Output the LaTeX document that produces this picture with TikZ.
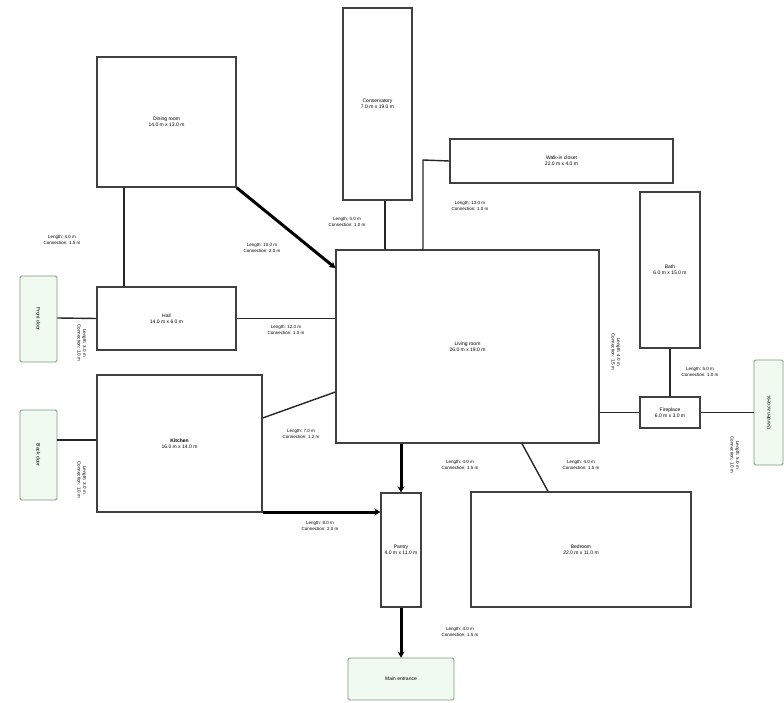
\documentclass[tikz,border=0pt]{standalone}
\usepackage{fontspec}
\setmainfont{Liberation Sans}
\usetikzlibrary{arrows.meta}
\definecolor{boxline}{HTML}{404040}
\definecolor{gfill}{HTML}{F1FAF1}
\definecolor{gline}{HTML}{7A9A7A}
\begin{document}
\begin{tikzpicture}[x=1pt,y=-1pt,
  room/.style={draw=boxline,line width=1.3pt,fill=white,align=center,inner sep=0pt,font=\fontsize{5}{6}\selectfont},
  gate/.style={draw=gline,line width=0.8pt,fill=gfill,rounded corners=1.5pt,align=center,inner sep=0pt,font=\fontsize{5}{6}\selectfont},
  link/.style={draw=black!85,line width=1.4pt},
  heavy/.style={draw=black,line width=3pt,-{Stealth[length=6pt,width=7pt]}},
  lab/.style={align=center,font=\fontsize{4.5}{5.5}\selectfont,inner sep=0pt}]
\useasboundingbox (0,0) rectangle (784,703);
% rooms
\node[room,minimum width=139pt,minimum height=130pt] (dining) at (166.5,122) {Dining room\\14.0 m x 13.0 m};
\node[room,minimum width=69pt,minimum height=192pt] (cons) at (377.5,104) {Conservatory\\7.0 m x 19.0 m};
\node[room,minimum width=223pt,minimum height=44pt] (closet) at (561.5,161) {Walk-in closet\\22.0 m x 4.0 m};
\node[room,minimum width=60pt,minimum height=156pt] (bath) at (670,270) {Bath\\6.0 m x 15.0 m};
\node[room,minimum width=60pt,minimum height=31pt] (fire) at (670,412.5) {Fireplace\\6.0 m x 3.0 m};
\node[room,minimum width=263pt,minimum height=193pt] (living) at (467.5,346.5) {Living room\\26.0 m x 19.0 m};
\node[room,minimum width=139pt,minimum height=63pt] (hall) at (166.5,318.5) {Hall\\14.0 m x 6.0 m};
\node[room,minimum width=165pt,minimum height=137pt] (kitchen) at (179.5,443.5) {\textbf{Kitchen}\\16.0 m x 14.0 m};
\node[room,minimum width=40pt,minimum height=114pt] (pantry) at (401,550) {Pantry\\4.0 m x 11.0 m};
\node[room,minimum width=220pt,minimum height=115pt] (bed) at (581,549.5) {Bedroom\\22.0 m x 11.0 m};
% entrances
\node[gate,minimum width=37pt,minimum height=86pt] (gtop) at (38.5,319) {\rotatebox{-90}{Front door}};
\node[gate,minimum width=37pt,minimum height=90pt] (gbot) at (38.5,455) {\rotatebox{-90}{Back door}};
\node[gate,minimum width=29pt,minimum height=105pt] (gright) at (768.5,412.5) {\rotatebox{90}{Garden access}};
\node[gate,minimum width=106pt,minimum height=42pt] (gmain) at (401,679) {Main entrance};
% connectors
\draw[link] (dining.south -| 124,0) -- (hall.north -| 124,0);
\node[lab] (l1) at (62,240) {Length: 4.0 m\\Connection: 1.5 m};
\draw[heavy] (dining.south east) -- (living.north west |- 0,268);
\node[lab] (l2) at (262,248) {Length: 10.0 m\\Connection: 2.0 m};
\draw[link] (cons.south -| 385,0) -- (living.north -| 385,0);
\node[lab] (l3) at (347,222) {Length: 5.0 m\\Connection: 1.0 m};
\coordinate (cbend) at (423,160);
\draw[link] (closet.west) -- (cbend) -- (living.north -| cbend);
\node[lab] (l4) at (470,206) {Length: 13.0 m\\Connection: 1.0 m};
\draw[link] (hall.east) -- (living.west |- hall.east);
\node[lab] (l5) at (286,330) {Length: 12.0 m\\Connection: 1.0 m};
\draw[link] (gtop.east |- 0,318) -- (hall.west);
\node[lab,rotate=-90] (l6) at (82,343) {Length: 3.0 m\\Connection: 1.0 m};
\draw[link] (kitchen.east |- 0,418) -- (living.west |- 0,392);
\node[lab] (l7) at (301,434) {Length: 7.0 m\\Connection: 1.2 m};
\draw[link] (gbot.east |- 0,440) -- (kitchen.west |- 0,440);
\node[lab,rotate=-90] (l8) at (82,480) {Length: 3.0 m\\Connection: 1.0 m};
\draw[heavy] (kitchen.east |- 0,512) -- (pantry.west |- 0,512);
\node[lab] (l9) at (320,526) {Length: 8.0 m\\Connection: 2.0 m};
\draw[heavy] (living.south -| pantry.north) -- (pantry.north);
\node[lab] (l10) at (460,465) {Length: 4.0 m\\Connection: 1.5 m};
\draw[link] (living.south -| 522,0) -- (bed.north -| 548,0);
\node[lab] (l11) at (581,465) {Length: 4.0 m\\Connection: 1.5 m};
\draw[heavy] (pantry.south) -- (gmain.north);
\node[lab] (l12) at (460,632) {Length: 4.0 m\\Connection: 1.5 m};
\draw[link] (living.east |- fire.west) -- (fire.west);
\node[lab,rotate=-90] (l13) at (616,352) {Length: 4.0 m\\Connection: 1.5 m};
\draw[link] (bath.south) -- (fire.north);
\node[lab] (l14) at (700,372) {Length: 5.0 m\\Connection: 1.0 m};
\draw[link] (fire.east) -- (gright.west);
\node[lab,rotate=-90] (l15) at (735,455) {Length: 5.0 m\\Connection: 1.0 m};
\end{tikzpicture}
\end{document}
